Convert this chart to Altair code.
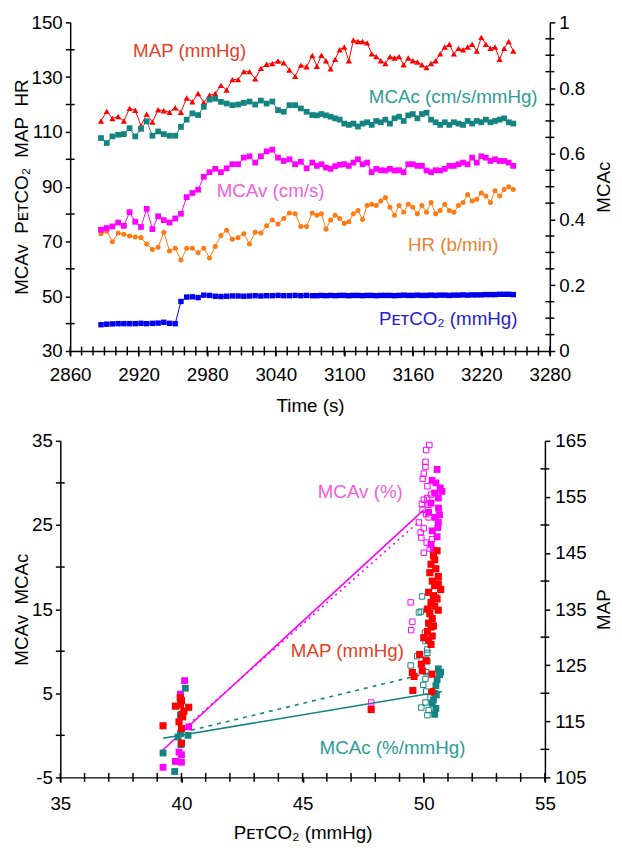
import altair as alt
import pandas as pd

FONT = "Liberation Sans"
FS = 19

# ---------------- top panel data ----------------
time_s = [2887, 2892, 2897, 2902, 2907, 2912, 2917, 2922, 2927, 2932, 2937, 2942, 2947, 2952, 2957,
          2962, 2967, 2972, 2977, 2982, 2987, 2992, 2997, 3002, 3007, 3012, 3017, 3022, 3027, 3032,
          3037, 3042, 3047, 3052, 3057, 3062, 3067, 3072,
          3076, 3080, 3084, 3088, 3092, 3096, 3100, 3104, 3108, 3112, 3116, 3120, 3124, 3128, 3132,
          3136, 3140, 3144, 3148, 3152, 3156, 3160, 3164, 3168, 3172, 3176, 3180, 3184, 3188, 3192,
          3196, 3200, 3204, 3208, 3212, 3216, 3220, 3224, 3228, 3232, 3236, 3240, 3244, 3248]

map_mmhg = [114.0, 117.5, 114.9, 115.6, 114.0, 118.6, 117.9, 112.2, 116.5, 113.6, 118.1, 117.7, 117.2,
            118.8, 117.2, 122.4, 121.0, 124.0, 120.8, 123.4, 124.0, 127.0, 125.3, 129.1, 129.1, 132.0,
            132.0, 129.4, 133.2, 134.7, 135.0, 135.9, 135.2, 132.6, 130.3, 134.4, 133.8, 137.9,
            134, 138, 136, 133, 136.5, 140, 141, 136, 143.5, 143, 143, 142.5, 138.5, 137.5, 136, 135,
            137.5, 137, 137.5, 134.5, 137, 136, 135.5, 134.5, 133.5, 135, 136, 138.5, 141, 142, 138.5,
            140.5, 140, 141, 142, 139.5, 144.5, 142, 140.5, 141, 136.5, 140.5, 143, 139.5]

mcac_cm_s_mmhg = [0.648, 0.633, 0.653, 0.658, 0.660, 0.678, 0.653, 0.676, 0.699, 0.655, 0.668, 0.660,
                  0.655, 0.655, 0.682, 0.704, 0.723, 0.718, 0.743, 0.765, 0.768, 0.758, 0.753, 0.748,
                  0.750, 0.755, 0.759, 0.750, 0.762, 0.753, 0.759, 0.733, 0.728, 0.748, 0.748, 0.738,
                  0.728, 0.718,
                  0.717, 0.721, 0.717, 0.713, 0.708, 0.704, 0.692, 0.688, 0.692, 0.683, 0.692, 0.696,
                  0.688, 0.700, 0.696, 0.704, 0.692, 0.708, 0.713, 0.700, 0.717, 0.721, 0.708, 0.721,
                  0.725, 0.704, 0.696, 0.688, 0.696, 0.688, 0.696, 0.692, 0.688, 0.700, 0.692, 0.700,
                  0.696, 0.704, 0.696, 0.700, 0.704, 0.708, 0.696, 0.692]

mcav_cm_s = [74.3, 74.9, 75.5, 76.9, 75.7, 80.7, 77.2, 75.3, 81.9, 74.5, 79.2, 77.8, 76.9, 78.4, 80.1,
             86.2, 87.7, 88.9, 93.6, 95.3, 96.5, 95.3, 96.7, 98.2, 98.2, 100.6, 101.1, 98.8, 101.1,
             102.9, 103.5, 100.6, 99.4, 100.0, 98.2, 99.1, 96.7, 98.8,
             97.6, 98.2, 97.0, 96.5, 97.5, 98.0, 98.2, 97.6, 98.8, 100.0, 98.2, 98.8, 95.3, 96.5, 96.0,
             95.9, 96.5, 95.9, 96.0, 95.3, 98.2, 98.2, 97.6, 97.6, 95.9, 95.3, 96.0, 95.9, 96.5, 97.6,
             97.6, 98.2, 98.8, 98.2, 100.6, 98.8, 101.1, 100.6, 99.4, 100.0, 99.4, 99.4, 98.8, 97.6]

hr_bpm = [72.8, 73.7, 69.9, 73.1, 72.6, 72.0, 71.6, 71.4, 69.1, 67.1, 67.9, 73.4, 66.5, 67.5, 63.2,
          67.5, 67.5, 65.9, 67.5, 64.0, 68.2, 72.2, 74.1, 70.8, 71.4, 72.8, 69.1, 73.4, 73.1, 75.7,
          77.8, 76.4, 78.4, 80.4, 80.1, 75.5, 75.5, 80.4,
          79.6, 80.1, 74.5, 77.8, 79.6, 78.4, 76.6, 77.2, 80.1, 81.3, 78.0, 83.1, 83.6, 83.1, 84.8,
          86.0, 82.5, 79.6, 83.1, 80.7, 83.6, 82.5, 80.1, 83.1, 80.7, 84.2, 80.1, 81.3, 83.6, 81.3,
          80.7, 83.1, 84.2, 87.1, 84.8, 85.4, 87.7, 86.6, 84.2, 88.5, 86.6, 89.0, 90.0, 89.0]

petco2_mmhg = [39.6, 39.8, 39.9, 40.0, 40.0, 40.0, 40.0, 40.1, 40.0, 40.1, 40.2, 40.5, 40.1, 40.0,
               48.1, 49.7, 49.8, 49.5, 50.4, 50.3, 50.0, 49.9, 50.0, 50.1, 50.1, 50.0, 50.1, 50.2,
               50.1, 50.2, 50.2, 50.3, 50.2, 50.2, 50.3, 50.2, 50.3, 50.2,
               50.2, 50.3, 50.2, 50.3, 50.2, 50.3, 50.3, 50.2, 50.3, 50.3, 50.2, 50.3, 50.3, 50.2,
               50.3, 50.3, 50.3, 50.2, 50.3, 50.4, 50.3, 50.3, 50.4, 50.3, 50.3, 50.4, 50.3, 50.4,
               50.4, 50.3, 50.4, 50.4, 50.5, 50.4, 50.5, 50.5, 50.5, 50.6, 50.6, 50.6, 50.7, 50.7,
               50.7, 50.6]

top_label_text = ["MAP (mmHg)", "MCAc (cm/s/mmHg)", "MCAv (cm/s)", "HR (b/min)", "P\u1d07\u1d1bCO\u2082 (mmHg)"]
top_label_t = [2964.6, 3195.4, 3035.5, 3195.4, 3191.0]
top_label_v = [139.5, 122.7, 88.4, 68.5, 41.6]
top_label_color = ["#e4411f", "#2b9c98", "#ee5fe0", "#f17f2c", "#1e22cc"]

# axis ticks (major = labelled, minor = short inner ticks)
top_x_major = [2860, 2920, 2980, 3040, 3100, 3160, 3220, 3280]
top_x_inner = list(range(2860, 3281, 10))
top_yl_major = [30, 50, 70, 90, 110, 130, 150]
top_yl_minor = [40, 60, 80, 100, 120, 140]
top_yr_major = [0, 0.2, 0.4, 0.6, 0.8, 1]
top_yr_minor = [0.05, 0.1, 0.15, 0.25, 0.3, 0.35, 0.45, 0.5, 0.55, 0.65, 0.7, 0.75, 0.85, 0.9, 0.95]

# ---------------- bottom panel data ----------------
mcav_base_x = [40.13, 39.96, 40.30, 39.90, 40.00, 40.00, 39.75, 39.24]
mcav_base_y = [6.5, 4.9, 1.0, -2.0, -2.3, -3.2, -3.1, -3.8]
mcav_hyp_x = [50.55, 50.34, 50.68, 50.75, 50.60, 50.30, 50.61, 50.47, 50.58, 50.35, 50.55, 50.30,
              50.40, 50.65, 50.45, 50.50, 50.20, 50.60]
mcav_hyp_y = [31.6, 30.3, 29.4, 29.0, 28.2, 27.6, 27.0, 25.9, 24.7, 24.3, 23.6, 22.7,
              22.0, 26.2, 28.8, 30.0, 26.5, 25.3]
mcav_open_x = [50.23, 50.10, 50.07, 50.07, 50.00, 49.96, 50.15, 50.14, 50.00, 50.20, 49.95, 49.80,
               50.20, 49.87, 50.00, 49.90, 50.34, 50.12, 50.00, 50.25, 50.10, 50.30, 49.92, 49.46,
               49.53, 49.48, 47.83]
mcav_open_y = [34.5, 33.9, 32.5, 31.9, 31.1, 30.5, 29.6, 28.2, 28.0, 27.4, 26.8, 25.3,
               25.9, 24.1, 24.6, 23.5, 23.3, 22.9, 21.7, 22.2, 26.3, 28.6, 27.5, 15.8,
               13.5, 12.5, 3.9]

mcac_base_x = [40.16, 39.96, 39.96, 39.86, 40.27, 39.98, 39.24, 39.72]
mcac_base_y = [5.6, 2.4, 0.2, -0.2, 0.0, -1.1, -2.1, -4.3]
mcac_hyp_x = [50.60, 50.65, 50.50, 50.45, 50.40, 50.50, 50.55, 50.45, 50.70, 50.35, 50.52]
mcac_hyp_y = [7.9, 7.2, 5.9, 5.0, 4.2, 3.2, 6.6, 2.5, 7.5, 3.8, 4.8]
mcac_open_x = [49.80, 49.93, 49.88, 50.34, 50.14, 50.07, 50.10, 49.73, 50.15, 49.46, 50.15, 50.10,
               50.07, 49.98, 50.10, 50.07, 50.28, 50.20, 50.15, 50.05, 49.90, 50.22]
mcac_open_y = [14.6, 16.5, 14.7, 12.9, 10.2, 11.2, 9.0, 9.4, 9.8, 8.3, 8.8, 7.5,
               6.7, 6.0, 5.2, 3.9, 4.5, 3.0, 2.4, 12.2, 3.3, 11.6]

map_base_x = [39.24, 39.75, 39.96, 40.30, 40.00, 39.90, 40.00, 40.10, 39.95, 40.05, 40.00, 40.02]
map_base_y = [114.2, 117.7, 117.9, 117.5, 118.7, 114.9, 111.1, 116.8, 119.2, 115.8, 113.7, 116.2]
map_hyp_x = [50.55, 50.40, 50.30, 50.50, 50.25, 50.60, 50.35, 50.45, 50.70, 50.20, 50.40, 50.55,
             50.30, 50.45, 50.60, 50.25, 50.35, 50.20, 50.30, 50.15, 50.35, 50.20, 50.30, 49.83,
             49.90, 49.94, 50.10, 49.53, 49.60, 50.34, 49.55, 47.83, 50.45, 50.60, 50.50, 50.15,
             50.40, 50.00]
map_hyp_y = [145.4, 144.5, 143.0, 142.2, 141.5, 140.8, 140.0, 139.2, 138.5, 138.0, 137.4, 136.8,
             136.2, 135.5, 134.8, 134.2, 133.3, 132.5, 131.8, 131.0, 130.2, 129.5, 128.7, 126.9,
             125.2, 124.0, 125.8, 123.7, 123.0, 123.4, 120.5, 117.1, 143.8, 139.5, 137.0, 135.0,
             132.0, 129.9]
map_mean_x = [50.34]
map_mean_y = [120.3]

fit_mcav_solid_x = [39.21, 50.0]
fit_mcav_solid_y = [-1.8, 26.8]
fit_mcav_dot_x = [40.3, 49.85]
fit_mcav_dot_y = [1.3, 25.5]
fit_mcac_solid_x = [39.24, 50.75]
fit_mcac_solid_y = [-0.34, 5.2]
fit_mcac_dash_x = [40.4, 50.34]
fit_mcac_dash_y = [0.6, 7.5]

bot_label_text = ["MCAv (%)", "MAP (mmHg)", "MCAc (%/mmHg)"]
bot_label_x = [47.38, 46.85, 48.71]
bot_label_y = [28.9, 10.0, -1.5]
bot_label_color = ["#ee5fe0", "#e4411f", "#2b9c98"]

bot_x_major = [35, 40, 45, 50, 55]
bot_x_inner = list(range(35, 56))
bot_yl_major = [-5, 5, 15, 25, 35]
bot_yl_minor = [0, 10, 20, 30]
bot_yr_major = [105, 115, 125, 135, 145, 155, 165]
bot_yr_minor = [110, 120, 130, 140, 150, 160]

# ---------------- colours ----------------
C_MAP, C_MCAC, C_MCAV, C_HR, C_PET = "#ff0000", "#148482", "#ff00ff", "#ff7a12", "#0000ee"

NB = "\u00a0"
TOP_W, TOP_H = 486, 333
BOT_SHIFT = 10            # bottom panel's plot starts this far left of the top panel's
BOT_W, BOT_H = 481, 341   # group width; the x range runs from -BOT_SHIFT to BOT_W
INT_LABEL = "datum.value < 0 ? '-' + format(-datum.value, 'd') : format(datum.value, 'd')"


def ax(**kw):
    base = dict(domainColor="black", domainWidth=1.5, tickColor="black", tickWidth=1.5, tickSize=5,
                labelFont=FONT, labelFontSize=FS, labelColor="black", labelOverlap=False,
                labelFlush=False, titleFont=FONT, titleFontSize=FS, titleFontWeight="normal",
                titleColor="black", grid=False)
    base.update(kw)
    return alt.Axis(**base)


def inner_y(values, Yfactory, x_px):
    return alt.Chart(pd.DataFrame({"v": values})).mark_tick(
        color="black", thickness=1.5, size=9, orient="horizontal", opacity=1
    ).encode(y=Yfactory("v:Q"), x=alt.value(x_px))


def inner_x(values, Xfactory, y_px):
    return alt.Chart(pd.DataFrame({"v": values})).mark_tick(
        color="black", thickness=1.5, size=9, orient="vertical", opacity=1
    ).encode(x=Xfactory("v:Q"), y=alt.value(y_px))


# ================= TOP PANEL =================
top_df = pd.DataFrame({"t": time_s, "MAP": map_mmhg, "MCAc": mcac_cm_s_mmhg, "MCAv": mcav_cm_s,
                       "HR": hr_bpm, "PET": petco2_mmhg})
top_lab_df = pd.DataFrame({"t": top_label_t, "v": top_label_v, "txt": top_label_text, "c": top_label_color})

tx_scale = alt.Scale(domain=[2860, 3280], nice=False, zero=False)
tl_scale = alt.Scale(domain=[30, 150], nice=False, zero=False)
tr_scale = alt.Scale(domain=[0, 1], nice=False, zero=False)

x_axis_top = ax(values=top_x_major, labelExpr=INT_LABEL, title="Time (s)", labelPadding=10, titlePadding=12)
yl_axis_top = ax(values=top_yl_major, labelExpr=INT_LABEL,
                 title=f"MCAv{NB}{NB}P\u1d07\u1d1bCO\u2082{NB}{NB}MAP{NB}{NB}HR", labelPadding=3, titlePadding=0)
yr_axis_top = ax(values=top_yr_major, orient="right", labelExpr="format(datum.value, '~g')",
                 title="MCAc", titleAngle=270, titleBaseline="top", labelPadding=4, titlePadding=10)


def TX(field):
    return alt.X(field, scale=tx_scale, axis=x_axis_top)


def TYL(field):
    return alt.Y(field, scale=tl_scale, axis=yl_axis_top)


def TYR(field):
    return alt.Y(field, scale=tr_scale, axis=yr_axis_top)


# inner ticks are 9 px long centred on the axis line -> 4.5 px reach into the plot
left_top = [inner_y(top_yl_minor, TYL, 0), inner_x(top_x_inner, TX, TOP_H)]
for col, color, shape, size in [("PET", C_PET, "square", 30), ("HR", C_HR, "circle", 26),
                                 ("MCAv", C_MCAV, "square", 34), ("MAP", C_MAP, "triangle-up", 40)]:
    left_top.append(alt.Chart(top_df).mark_line(color=color, strokeWidth=1)
                    .encode(x=TX("t:Q"), y=TYL(f"{col}:Q")))
    left_top.append(alt.Chart(top_df).mark_point(shape=shape, filled=True, color=color, size=size, opacity=1)
                    .encode(x=TX("t:Q"), y=TYL(f"{col}:Q")))
left_top.append(alt.Chart(top_lab_df).mark_text(font=FONT, fontSize=FS, align="center", baseline="middle")
                .encode(x=TX("t:Q"), y=TYL("v:Q"), text="txt:N", color=alt.Color("c:N", scale=None)))

right_top = [
    inner_y(top_yr_minor, TYR, TOP_W),
    alt.Chart(top_df).mark_line(color=C_MCAC, strokeWidth=1).encode(x=TX("t:Q"), y=TYR("MCAc:Q")),
    alt.Chart(top_df).mark_point(shape="square", filled=True, color=C_MCAC, size=34, opacity=1)
    .encode(x=TX("t:Q"), y=TYR("MCAc:Q")),
]

top = alt.layer(alt.layer(*left_top), alt.layer(*right_top)).resolve_scale(y="independent").properties(
    width=TOP_W, height=TOP_H)

# ================= BOTTOM PANEL =================
bx_scale = alt.Scale(domain=[35, 55], range=[-BOT_SHIFT, BOT_W], nice=False, zero=False)
bl_scale = alt.Scale(domain=[-5, 35], nice=False, zero=False)
br_scale = alt.Scale(domain=[105, 165], nice=False, zero=False)

x_axis_bot = ax(values=bot_x_major, labelExpr=INT_LABEL,
                title="P\u1d07\u1d1bCO\u2082 (mmHg)", labelPadding=13, titlePadding=10)
yl_axis_bot = ax(values=bot_yl_major, labelExpr=INT_LABEL, offset=BOT_SHIFT,
                 title=f"MCAv{NB}{NB}MCAc", labelPadding=3, titlePadding=0)
yr_axis_bot = ax(values=bot_yr_major, orient="right", labelExpr=INT_LABEL,
                 title="MAP", titleAngle=270, titleBaseline="top", labelPadding=5, titlePadding=9)


def pts(xs, ys):
    return pd.DataFrame({"x": xs, "y": ys})


def BX(field):
    return alt.X(field, scale=bx_scale, axis=x_axis_bot)


def BYL(field):
    return alt.Y(field, scale=bl_scale, axis=yl_axis_bot)


def BYR(field):
    return alt.Y(field, scale=br_scale, axis=yr_axis_bot)


left_bot = [
    inner_y(bot_yl_minor, BYL, -BOT_SHIFT),
    inner_x(bot_x_inner, BX, BOT_H),
    alt.Chart(pts(fit_mcav_solid_x, fit_mcav_solid_y)).mark_line(color=C_MCAV, strokeWidth=1.6)
    .encode(x=BX("x:Q"), y=BYL("y:Q")),
    alt.Chart(pts(fit_mcav_dot_x, fit_mcav_dot_y)).mark_line(color=C_MCAV, strokeWidth=1.6, strokeDash=[2, 4])
    .encode(x=BX("x:Q"), y=BYL("y:Q")),
    alt.Chart(pts(fit_mcac_solid_x, fit_mcac_solid_y)).mark_line(color=C_MCAC, strokeWidth=1.6)
    .encode(x=BX("x:Q"), y=BYL("y:Q")),
    alt.Chart(pts(fit_mcac_dash_x, fit_mcac_dash_y)).mark_line(color=C_MCAC, strokeWidth=1.6, strokeDash=[4, 5])
    .encode(x=BX("x:Q"), y=BYL("y:Q")),
    alt.Chart(pts(mcav_open_x, mcav_open_y)).mark_point(shape="square", filled=False, color=C_MCAV, size=30,
                                                        strokeWidth=1, opacity=1)
    .encode(x=BX("x:Q"), y=BYL("y:Q")),
    alt.Chart(pts(mcac_open_x, mcac_open_y)).mark_point(shape="square", filled=False, color=C_MCAC, size=30,
                                                        strokeWidth=1, opacity=1)
    .encode(x=BX("x:Q"), y=BYL("y:Q")),
    alt.Chart(pts(mcav_base_x + mcav_hyp_x, mcav_base_y + mcav_hyp_y))
    .mark_point(shape="square", filled=True, color=C_MCAV, size=48, opacity=1)
    .encode(x=BX("x:Q"), y=BYL("y:Q")),
    alt.Chart(pts(mcac_base_x + mcac_hyp_x, mcac_base_y + mcac_hyp_y))
    .mark_point(shape="square", filled=True, color=C_MCAC, size=48, opacity=1)
    .encode(x=BX("x:Q"), y=BYL("y:Q")),
    alt.Chart(pd.DataFrame({"x": bot_label_x, "y": bot_label_y, "txt": bot_label_text, "c": bot_label_color}))
    .mark_text(font=FONT, fontSize=FS, align="center", baseline="middle")
    .encode(x=BX("x:Q"), y=BYL("y:Q"), text="txt:N", color=alt.Color("c:N", scale=None)),
]

right_bot = [
    inner_y(bot_yr_minor, BYR, BOT_W),
    alt.Chart(pts(map_base_x + map_hyp_x, map_base_y + map_hyp_y))
    .mark_point(shape="square", filled=True, color=C_MAP, size=52, opacity=1)
    .encode(x=BX("x:Q"), y=BYR("y:Q")),
    alt.Chart(pts(map_mean_x, map_mean_y))
    .mark_point(shape="circle", filled=True, color=C_MAP, size=60, opacity=1)
    .encode(x=BX("x:Q"), y=BYR("y:Q")),
]

bottom = alt.layer(alt.layer(*left_bot), alt.layer(*right_bot)).resolve_scale(y="independent").properties(
    width=BOT_W, height=BOT_H)

chart = alt.vconcat(top, bottom, spacing=17).configure_view(stroke=None).properties(
    padding={"top": 0, "left": 4, "right": 0, "bottom": 0})

chart.save("out.html", embed_options={"renderer": "svg", "actions": False})
